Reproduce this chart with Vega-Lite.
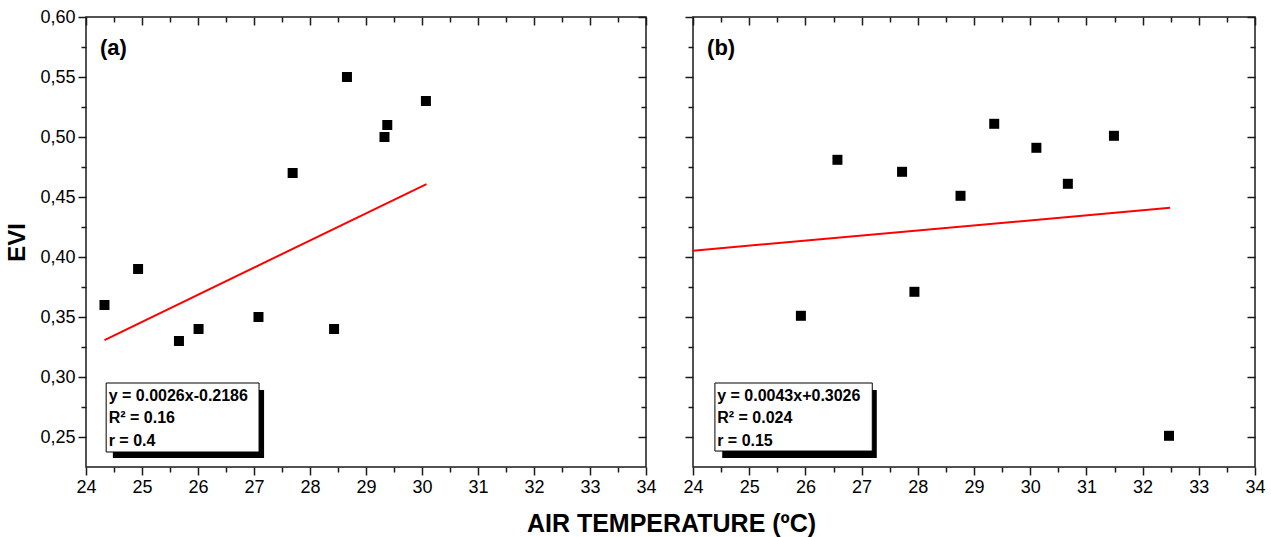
{
  "$schema": "https://vega.github.io/schema/vega-lite/v6.json",
  "background": "white",
  "padding": {"left": 5, "top": 7, "right": 5, "bottom": 5},
  "spacing": 25,
  "config": {
    "font": "Liberation Sans",
    "view": {"stroke": "#1a1a1a", "strokeWidth": 1.5},
    "axis": {
      "domain": false,
      "grid": false,
      "tickColor": "#1a1a1a",
      "tickWidth": 1.5,
      "labelColor": "#000000",
      "labelFont": "Liberation Sans",
      "labelFontSize": 18,
      "labelOverlap": false,
      "labelFlush": false,
      "titleColor": "#000000",
      "titleFont": "Liberation Sans"
    }
  },
  "title": {
    "text": "AIR TEMPERATURE (ºC)",
    "orient": "bottom",
    "anchor": "middle",
    "fontSize": 25,
    "fontWeight": "bold",
    "font": "Liberation Sans",
    "color": "#000000",
    "offset": 15,
    "dx": 36
  },
  "datasets": {
    "pts_a": [
      {"temp": 24.33, "evi": 0.36},
      {"temp": 24.93, "evi": 0.39},
      {"temp": 25.66, "evi": 0.33},
      {"temp": 26.01, "evi": 0.34},
      {"temp": 27.08, "evi": 0.35},
      {"temp": 27.69, "evi": 0.47},
      {"temp": 28.43, "evi": 0.34},
      {"temp": 28.66, "evi": 0.55},
      {"temp": 29.33, "evi": 0.50},
      {"temp": 29.38, "evi": 0.51},
      {"temp": 30.07, "evi": 0.53}
    ],
    "fit_a": [
      {"temp": 24.33, "evi": 0.3308},
      {"temp": 30.08, "evi": 0.4608}
    ],
    "pts_b": [
      {"temp": 25.92, "evi": 0.351},
      {"temp": 26.57, "evi": 0.481},
      {"temp": 27.72, "evi": 0.471},
      {"temp": 27.94, "evi": 0.371},
      {"temp": 28.76, "evi": 0.451},
      {"temp": 29.36, "evi": 0.511},
      {"temp": 30.11, "evi": 0.491},
      {"temp": 30.67, "evi": 0.461},
      {"temp": 31.49, "evi": 0.501},
      {"temp": 32.47, "evi": 0.251}
    ],
    "fit_b": [
      {"temp": 24.0, "evi": 0.4053},
      {"temp": 32.49, "evi": 0.441}
    ]
  },
  "hconcat": [
    {
      "width": 560,
      "height": 450,
      "resolve": {"axis": {"x": "independent", "y": "independent"}},
      "layer": [
        {
          "data": {"name": "pts_a"},
          "mark": {"type": "square", "size": 100, "color": "#000000", "opacity": 1},
          "encoding": {
            "x": {"field": "temp", "type": "quantitative",
              "scale": {"domain": [24, 34], "nice": false, "zero": false},
              "axis": {"orient": "bottom", "title": null,
                "values": [24,24.5,25,25.5,26,26.5,27,27.5,28,28.5,29,29.5,30,30.5,31,31.5,32,32.5,33,33.5,34],
                "labelExpr": "abs(datum.value - round(datum.value)) < 0.01 ? format(datum.value, 'd') : ''",
                "tickSize": {"condition": {"test": "abs(datum.value - round(datum.value)) < 0.01", "value": 8}, "value": 5},
                "labelPadding": 3}},
            "y": {"field": "evi", "type": "quantitative",
              "scale": {"domain": [0.225, 0.6], "nice": false, "zero": false},
              "axis": {"orient": "left", "title": "EVI", "titleFontSize": 24, "titleFontWeight": "bold", "titlePadding": 10,
                "values": [0.25,0.275,0.3,0.325,0.35,0.375,0.4,0.425,0.45,0.475,0.5,0.525,0.55,0.575,0.6],
                "labelExpr": "abs(datum.value*20 - round(datum.value*20)) < 0.01 ? replace(format(datum.value, '.2f'), '.', ',') : ''",
                "tickSize": {"condition": {"test": "abs(datum.value*20 - round(datum.value*20)) < 0.01", "value": 8}, "value": 5},
                "labelPadding": 3}}
          }
        },
        {
          "data": {"name": "fit_a"},
          "mark": {"type": "line", "color": "#ff0000", "strokeWidth": 2},
          "encoding": {
            "x": {"field": "temp", "type": "quantitative",
              "axis": {"orient": "top", "title": null, "labels": false,
                "values": [24,24.5,25,25.5,26,26.5,27,27.5,28,28.5,29,29.5,30,30.5,31,31.5,32,32.5,33,33.5,34],
                "tickSize": {"condition": {"test": "abs(datum.value - round(datum.value)) < 0.01", "value": -8}, "value": -5}}},
            "y": {"field": "evi", "type": "quantitative",
              "axis": {"orient": "right", "title": null, "labels": false,
                "values": [0.25,0.275,0.3,0.325,0.35,0.375,0.4,0.425,0.45,0.475,0.5,0.525,0.55,0.575,0.6],
                "tickSize": {"condition": {"test": "abs(datum.value*20 - round(datum.value*20)) < 0.01", "value": -8}, "value": -5}}}
          }
        },
        {
          "data": {"values": [{}]},
          "mark": {"type": "rect", "color": "#000000"},
          "encoding": {
            "x": {"datum": 24.48, "type": "quantitative", "axis": null},
            "x2": {"datum": 27.18},
            "y": {"datum": 0.2892, "type": "quantitative", "axis": null},
            "y2": {"datum": 0.2325}
          }
        },
        {
          "data": {"values": [{}]},
          "mark": {"type": "rect", "fill": "#ffffff", "stroke": "#000000", "strokeWidth": 1},
          "encoding": {
            "x": {"datum": 24.36, "type": "quantitative", "axis": null},
            "x2": {"datum": 27.09},
            "y": {"datum": 0.295, "type": "quantitative", "axis": null},
            "y2": {"datum": 0.2375}
          }
        },
        {
          "data": {"values": [{}]},
          "mark": {"type": "text", "text": ["y = 0.0026x-0.2186", "R² = 0.16", "r = 0.4"], "align": "left", "baseline": "middle", "lineHeight": 22.5, "fontSize": 16, "fontWeight": "bold", "font": "Liberation Sans", "color": "#000000"},
          "encoding": {
            "x": {"datum": 24.405, "type": "quantitative", "axis": null},
            "y": {"datum": 0.2842, "type": "quantitative", "axis": null}
          }
        },
        {
          "data": {"values": [{}]},
          "mark": {"type": "text", "text": "(a)", "align": "left", "baseline": "middle", "fontSize": 22, "fontWeight": "bold", "font": "Liberation Sans", "color": "#000000"},
          "encoding": {
            "x": {"datum": 24.25, "type": "quantitative", "axis": null},
            "y": {"datum": 0.574, "type": "quantitative", "axis": null}
          }
        }
      ]
    },
    {
      "width": 562,
      "height": 450,
      "resolve": {"axis": {"x": "independent", "y": "independent"}},
      "layer": [
        {
          "data": {"name": "pts_b"},
          "mark": {"type": "square", "size": 100, "color": "#000000", "opacity": 1},
          "encoding": {
            "x": {"field": "temp", "type": "quantitative",
              "scale": {"domain": [24, 34], "nice": false, "zero": false},
              "axis": {"orient": "bottom", "title": null,
                "values": [24,24.5,25,25.5,26,26.5,27,27.5,28,28.5,29,29.5,30,30.5,31,31.5,32,32.5,33,33.5,34],
                "labelExpr": "abs(datum.value - round(datum.value)) < 0.01 ? format(datum.value, 'd') : ''",
                "tickSize": {"condition": {"test": "abs(datum.value - round(datum.value)) < 0.01", "value": 8}, "value": 5},
                "labelPadding": 3}},
            "y": {"field": "evi", "type": "quantitative",
              "scale": {"domain": [0.225, 0.6], "nice": false, "zero": false},
              "axis": {"orient": "left", "title": null, "labels": false,
                "values": [0.25,0.275,0.3,0.325,0.35,0.375,0.4,0.425,0.45,0.475,0.5,0.525,0.55,0.575,0.6],
                "tickSize": {"condition": {"test": "abs(datum.value*20 - round(datum.value*20)) < 0.01", "value": 8}, "value": 5}}}
          }
        },
        {
          "data": {"name": "fit_b"},
          "mark": {"type": "line", "color": "#ff0000", "strokeWidth": 2},
          "encoding": {
            "x": {"field": "temp", "type": "quantitative",
              "axis": {"orient": "top", "title": null, "labels": false,
                "values": [24,24.5,25,25.5,26,26.5,27,27.5,28,28.5,29,29.5,30,30.5,31,31.5,32,32.5,33,33.5,34],
                "tickSize": {"condition": {"test": "abs(datum.value - round(datum.value)) < 0.01", "value": -8}, "value": -5}}},
            "y": {"field": "evi", "type": "quantitative",
              "axis": {"orient": "right", "title": null, "labels": false,
                "values": [0.25,0.275,0.3,0.325,0.35,0.375,0.4,0.425,0.45,0.475,0.5,0.525,0.55,0.575,0.6],
                "tickSize": {"condition": {"test": "abs(datum.value*20 - round(datum.value*20)) < 0.01", "value": -8}, "value": -5}}}
          }
        },
        {
          "data": {"values": [{}]},
          "mark": {"type": "rect", "color": "#000000"},
          "encoding": {
            "x": {"datum": 24.52, "type": "quantitative", "axis": null},
            "x2": {"datum": 27.27},
            "y": {"datum": 0.2892, "type": "quantitative", "axis": null},
            "y2": {"datum": 0.2325}
          }
        },
        {
          "data": {"values": [{}]},
          "mark": {"type": "rect", "fill": "#ffffff", "stroke": "#000000", "strokeWidth": 1},
          "encoding": {
            "x": {"datum": 24.39, "type": "quantitative", "axis": null},
            "x2": {"datum": 27.19},
            "y": {"datum": 0.295, "type": "quantitative", "axis": null},
            "y2": {"datum": 0.2383}
          }
        },
        {
          "data": {"values": [{}]},
          "mark": {"type": "text", "text": ["y = 0.0043x+0.3026", "R² = 0.024", "r = 0.15"], "align": "left", "baseline": "middle", "lineHeight": 22.5, "fontSize": 16, "fontWeight": "bold", "font": "Liberation Sans", "color": "#000000"},
          "encoding": {
            "x": {"datum": 24.43, "type": "quantitative", "axis": null},
            "y": {"datum": 0.2842, "type": "quantitative", "axis": null}
          }
        },
        {
          "data": {"values": [{}]},
          "mark": {"type": "text", "text": "(b)", "align": "left", "baseline": "middle", "fontSize": 22, "fontWeight": "bold", "font": "Liberation Sans", "color": "#000000"},
          "encoding": {
            "x": {"datum": 24.25, "type": "quantitative", "axis": null},
            "y": {"datum": 0.574, "type": "quantitative", "axis": null}
          }
        }
      ]
    }
  ]
}
